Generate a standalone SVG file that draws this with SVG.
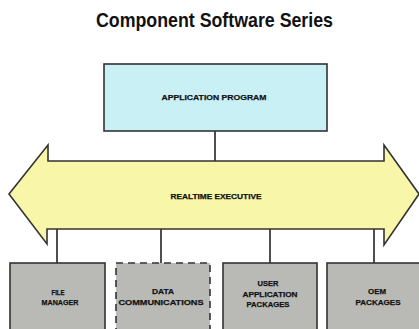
<svg xmlns="http://www.w3.org/2000/svg" width="419" height="329" viewBox="0 0 419 329">
<style>
text{font-family:"Liberation Sans",Arial,sans-serif;font-weight:bold;fill:#111;text-anchor:middle}
.lbl{font-size:8px;stroke:#111;stroke-width:0.25}
.conn line{stroke:#222;stroke-width:1.6}
.box{fill:#b9b9b5;stroke:#333;stroke-width:1.6}
</style>
<rect width="419" height="329" fill="#ffffff"/>
<text x="214.5" y="27" font-size="21" textLength="237" lengthAdjust="spacingAndGlyphs">Component Software Series</text>
<g id="conn" class="conn">
<line x1="215" y1="131" x2="215" y2="162"/>
<line x1="57" y1="228" x2="57" y2="263"/>
<line x1="161" y1="228" x2="161" y2="263"/>
<line x1="270" y1="228" x2="270" y2="263"/>
<line x1="374" y1="228" x2="374" y2="263"/>
</g>
<g id="app">
<rect x="104" y="64" width="223" height="67" fill="#c9f1f5" stroke="#333" stroke-width="1.6"/>
<text class="lbl" x="214" y="100" textLength="105" lengthAdjust="spacingAndGlyphs">APPLICATION PROGRAM</text>
</g>
<g id="exec">
<polygon points="9,194 48,145 48,161 384,161 384,145 419,194 384,245 384,229 47,229 47,244" fill="#f8f6a8" stroke="#333" stroke-width="1.6" stroke-linejoin="miter"/>
<text class="lbl" x="216" y="199" textLength="91" lengthAdjust="spacingAndGlyphs">REALTIME EXECUTIVE</text>
</g>
<g id="file">
<rect class="box" x="10" y="263" width="95" height="80"/>
<text class="lbl" x="58" y="295" textLength="13" lengthAdjust="spacingAndGlyphs">FILE</text>
<text class="lbl" x="60" y="305" textLength="37" lengthAdjust="spacingAndGlyphs">MANAGER</text>
</g>
<g id="datacomm">
<rect class="box" x="116" y="263" width="94" height="80" stroke-dasharray="7,5" fill="#c3c3c0"/>
<text class="lbl" x="163" y="294" textLength="22" lengthAdjust="spacingAndGlyphs">DATA</text>
<text class="lbl" x="161" y="305" textLength="85" lengthAdjust="spacingAndGlyphs">COMMUNICATIONS</text>
</g>
<g id="userapp">
<rect class="box" x="223" y="263" width="94" height="80"/>
<text class="lbl" x="268" y="286" textLength="21" lengthAdjust="spacingAndGlyphs">USER</text>
<text class="lbl" x="270" y="297" textLength="55" lengthAdjust="spacingAndGlyphs">APPLICATION</text>
<text class="lbl" x="268" y="307" textLength="43" lengthAdjust="spacingAndGlyphs">PACKAGES</text>
</g>
<g id="oem">
<rect class="box" x="327" y="263" width="100" height="80"/>
<text class="lbl" x="377" y="294" textLength="18" lengthAdjust="spacingAndGlyphs">OEM</text>
<text class="lbl" x="378" y="305" textLength="45" lengthAdjust="spacingAndGlyphs">PACKAGES</text>
</g>
</svg>
